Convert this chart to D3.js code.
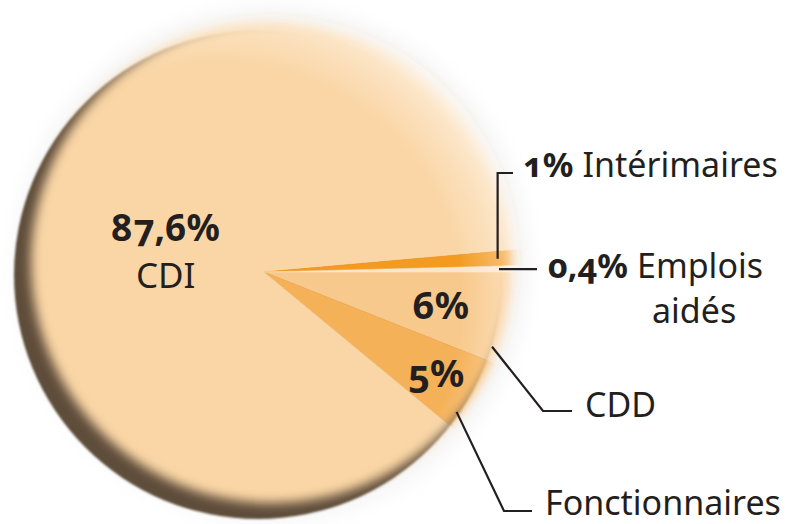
<!DOCTYPE html>
<html>
<head>
<meta charset="utf-8">
<script src="https://cdn.jsdelivr.net/npm/d3@7"></script>
<style>
  body { margin: 0; background: #fff; }
  svg { display: block; font-family: "Noto Sans", sans-serif; }
  text { fill: #231f20; font-feature-settings: "onum"; }
</style>
</head>
<body>
<div id="chart"></div>
<script>
// data, in drawing order (clockwise from 3 o'clock)
var categories = ["CDD", "Fonctionnaires", "CDI", "Intérimaires", "Emplois aidés"];
var shares = [6, 5, 87.6, 1, 0.4];
var shareLabels = ["6%", "5%", "87,6%", "1%", "0,4%"];
var colors = ["#f8c98c", "#f5b158", "#fad6a6", "#f39a20", "#fbe6cb"];

var width = 792, height = 524;
var cx = 264, cy = 272;   // apex of the slices

var svg = d3.select("#chart").append("svg")
  .attr("width", width)
  .attr("height", height);

var defs = svg.append("defs");

defs.append("filter").attr("id", "soft")
  .attr("x", "-20%").attr("y", "-20%").attr("width", "140%").attr("height", "140%")
  .append("feGaussianBlur").attr("stdDeviation", 5.5);
defs.append("filter").attr("id", "halo")
  .attr("x", "-20%").attr("y", "-20%").attr("width", "140%").attr("height", "140%")
  .append("feGaussianBlur").attr("stdDeviation", 9);
defs.append("filter").attr("id", "rim")
  .append("feGaussianBlur").attr("stdDeviation", 1.2);

// the face of the disc, shifted up-right so the dark rim shows bottom-left
defs.append("mask").attr("id", "face")
  .attr("maskUnits", "userSpaceOnUse")
  .attr("x", 0).attr("y", 0).attr("width", width).attr("height", height)
  .append("circle")
  .attr("cx", 272).attr("cy", 262).attr("r", 241)
  .attr("fill", "#fff")
  .attr("filter", "url(#soft)");

var hl = defs.append("radialGradient").attr("id", "highlight")
  .attr("cx", 0.4).attr("cy", 0.58).attr("r", 0.62);
hl.append("stop").attr("offset", 0.78).attr("stop-color", "#fff").attr("stop-opacity", 0);
hl.append("stop").attr("offset", 0.93).attr("stop-color", "#fff").attr("stop-opacity", 0.35);
hl.append("stop").attr("offset", 1).attr("stop-color", "#fff").attr("stop-opacity", 0.7);

// faint shadow around the disc
svg.append("circle")
  .attr("cx", 272).attr("cy", 264).attr("r", 258)
  .attr("fill", "#e6e6e6").attr("opacity", 0.35)
  .attr("filter", "url(#halo)");

// dark rim
svg.append("circle")
  .attr("cx", 258).attr("cy", 275).attr("r", 244)
  .attr("fill", "#5e4d3a")
  .attr("filter", "url(#rim)");

var pie = d3.pie()
  .sort(null)
  .startAngle(Math.PI / 2)
  .endAngle(Math.PI / 2 + 2 * Math.PI)
  .value(function(d) { return d; });

var arcs = pie(shares);

var arc = d3.arc().innerRadius(0).outerRadius(280);

var faceG = svg.append("g").attr("mask", "url(#face)");

faceG.append("g")
  .attr("transform", "translate(" + cx + "," + cy + ")")
  .selectAll("path")
  .data(arcs)
  .enter().append("path")
  .attr("d", arc)
  .attr("fill", function(d, i) { return colors[i]; })
  .attr("stroke", function(d, i) { return colors[i]; })
  .attr("stroke-width", 0.5);

faceG.append("circle")
  .attr("cx", 270).attr("cy", 265).attr("r", 250)
  .attr("fill", "url(#highlight)");

function polar(angle, r) {
  return [cx + r * Math.sin(angle), cy - r * Math.cos(angle)];
}

// labels inside the slices
var inner = [
  { i: 2, r: 103, dy: 0, size: 37 },
  { i: 0, r: 180, dy: 13, size: 38 },
  { i: 1, r: 200, dy: 13, size: 38 }
];

inner.forEach(function(l) {
  var a = arcs[l.i];
  var p = polar((a.startAngle + a.endAngle) / 2, l.r);
  svg.append("text")
    .attr("x", p[0]).attr("y", p[1] + l.dy)
    .attr("text-anchor", "middle")
    .attr("font-size", l.size)
    .attr("font-weight", "bold")
    .text(shareLabels[l.i]);
  if (l.i === 2) {
    svg.append("text")
      .attr("x", p[0]).attr("y", p[1] + 47)
      .attr("text-anchor", "middle")
      .attr("font-size", 35)
      .text(categories[l.i]);
  }
});

// leader lines for the labels outside the disc
var leaders = [
  { i: 3, frac: 0.5, r: 234, bend: "v", to: 173, end: 513, tx: 523, ty: 177, pct: true },
  { i: 4, frac: 0.5, r: 235, bend: "h", to: null, end: 537, tx: 548, ty: 278, pct: true },
  { i: 0, frac: 0.84, r: 240, bend: [543, 411], end: 572, tx: 585, ty: 417, pct: false },
  { i: 1, frac: 0.8, r: 238, bend: [504, 511], end: 532, tx: 545, ty: 515, pct: false }
];

var line = d3.line();

leaders.forEach(function(l) {
  var a = arcs[l.i];
  var p = polar(a.startAngle + l.frac * (a.endAngle - a.startAngle), l.r);
  var pts;
  if (l.bend === "v") {
    pts = [p, [p[0], l.to], [l.end, l.to]];
  } else if (l.bend === "h") {
    pts = [p, [l.end, p[1]]];
  } else {
    pts = [p, l.bend, [l.end, l.bend[1]]];
  }
  svg.append("path")
    .attr("d", line(pts))
    .attr("fill", "none")
    .attr("stroke", "#231f20")
    .attr("stroke-width", 2.2);

  var name = categories[l.i];
  var t = svg.append("text")
    .attr("x", l.tx).attr("y", l.ty)
    .attr("font-size", 34);
  if (l.pct) {
    t.append("tspan").attr("font-weight", "bold").text(shareLabels[l.i]);
    var words = name.split(" ");
    t.append("tspan").attr("dx", 9).text(words[0]);
    if (words.length > 1) {
      svg.append("text")
        .attr("x", 652).attr("y", l.ty + 45)
        .attr("font-size", 34)
        .text(words[1]);
    }
  } else {
    t.text(name);
  }
});
</script>
</body>
</html>
